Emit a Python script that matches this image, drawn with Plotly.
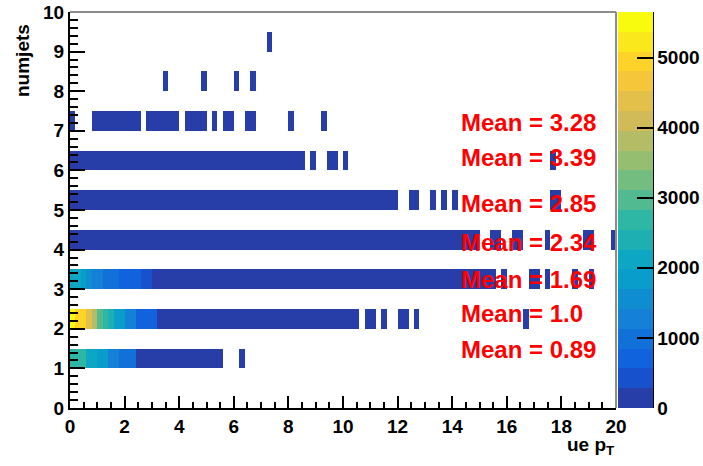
import numpy as np
import plotly.graph_objects as go

# ---------------- data ----------------
X_MIN, X_MAX, NX = 0.0, 20.0, 100      # ue pT binning
Y_MIN, Y_MAX, NY = 0.0, 10.0, 20       # numjets binning
numjets = [1, 2, 3, 4, 5, 6, 7, 8, 9]

# counts of the leading (coloured) bins starting at ue pT = 0, per row
row1_lead = [2700, 2650, 2600, 2150, 2100, 1800, 1750, 1400, 1350, 950, 900, 870]
row2_lead = [5650, 5050, 4950, 4350, 3800, 3050, 2800, 2350, 1950, 1750, 1350, 1200, 800, 750, 650, 600]
row3_lead = [2000, 1980, 1850, 1450, 1400, 1350, 1050, 1000, 950, 650, 620, 600, 580, 560, 540]
row4_lead = []
row5_lead = []
row6_lead = []
row7_lead = []
row8_lead = []
row9_lead = []

# further filled ranges: (ue pT low, ue pT high, counts per bin)
row1_runs = [(2.4, 5.6, 120), (6.2, 6.4, 2)]
row2_runs = [(3.2, 10.6, 150), (10.8, 11.2, 3), (11.4, 11.6, 2), (12.0, 12.4, 3), (12.6, 12.8, 1), (16.6, 16.8, 1)]
row3_runs = [(3.0, 15.6, 150), (15.8, 16.0, 3), (16.8, 17.2, 3), (17.4, 17.6, 2), (18.4, 18.6, 1), (19.0, 19.2, 1)]
row4_runs = [(0.0, 15.0, 200), (15.4, 15.8, 3), (16.2, 16.6, 3), (17.4, 17.6, 1), (18.8, 19.2, 2), (19.8, 20.0, 1)]
row5_runs = [(0.0, 12.0, 150), (12.4, 12.8, 3), (13.2, 13.4, 1), (13.6, 13.8, 1), (14.0, 14.2, 1), (17.6, 18.0, 2)]
row6_runs = [(0.0, 8.6, 100), (8.8, 9.0, 2), (9.4, 9.8, 2), (10.0, 10.2, 1), (17.6, 17.8, 1)]
row7_runs = [(0.0, 0.2, 1), (0.8, 2.6, 5), (2.8, 4.0, 4), (4.2, 5.0, 3), (5.2, 5.4, 1), (5.6, 6.0, 2), (6.4, 6.8, 2), (8.0, 8.2, 1), (9.2, 9.4, 1)]
row8_runs = [(3.4, 3.6, 1), (4.8, 5.0, 1), (6.0, 6.2, 1), (6.6, 6.8, 1)]
row9_runs = [(7.2, 7.4, 1)]

mean_labels = ["3.28", "3.39", "2.85", "2.34", "1.69", "1.0", "0.89"]
cbar_ticks = [0, 1000, 2000, 3000, 4000, 5000]

# ---------------- build histogram ----------------
leads = [row1_lead, row2_lead, row3_lead, row4_lead, row5_lead, row6_lead, row7_lead, row8_lead, row9_lead]
runs = [row1_runs, row2_runs, row3_runs, row4_runs, row5_runs, row6_runs, row7_runs, row8_runs, row9_runs]
dx = (X_MAX - X_MIN) / NX
dy = (Y_MAX - Y_MIN) / NY
z = np.full((NY, NX), np.nan)
for nj, lead, rr in zip(numjets, leads, runs):
    iy = int(round((nj - Y_MIN) / dy))
    for lo, hi, c in rr:
        for ix in range(int(round((lo - X_MIN) / dx)), int(round((hi - X_MIN) / dx))):
            z[iy, ix] = c
    for ix, c in enumerate(lead):
        z[iy, ix] = c
zmax = float(np.nanmax(z))

# ROOT kBird palette, 20 contour levels
stops = [0.0, 0.125, 0.25, 0.375, 0.5, 0.625, 0.75, 0.875, 1.0]
red = [0.2082, 0.0592, 0.0780, 0.0232, 0.1802, 0.5301, 0.8186, 0.9956, 0.9764]
green = [0.1664, 0.3599, 0.5041, 0.6419, 0.7178, 0.7492, 0.7328, 0.7862, 0.9832]
blue = [0.5293, 0.8684, 0.8385, 0.7914, 0.6425, 0.4662, 0.3499, 0.1968, 0.0539]
NCOL = 255
pal = []
for i in range(NCOL):
    t = i / (NCOL - 1)
    pal.append((np.interp(t, stops, red), np.interp(t, stops, green), np.interp(t, stops, blue)))
NLEV = 20
cs = []
for k in range(NLEV):
    idx = min(int((k + 0.99) * NCOL / NLEV), NCOL - 1)
    r, g, b = pal[idx]
    col = "rgb(%d,%d,%d)" % (round(r * 255), round(g * 255), round(b * 255))
    cs.append([k / NLEV, col])
    cs.append([(k + 1) / NLEV, col])

bold = dict(family="Liberation Sans, Arial, sans-serif", size=19, color="black", weight="bold")

fig = go.Figure(go.Heatmap(
    z=z, x0=X_MIN + dx / 2, dx=dx, y0=Y_MIN + dy / 2, dy=dy,
    zmin=0, zmax=zmax, colorscale=cs, hoverongaps=False,
    colorbar=dict(x=1.0037, xanchor="left", y=0.5, yanchor="middle", len=1, lenmode="fraction",
                  thickness=35, thicknessmode="pixels", xpad=0, ypad=0, outlinewidth=0,
                  ticks="inside", ticklen=16, tickwidth=2, tickcolor="black",
                  tickvals=cbar_ticks, ticktext=[str(v) for v in cbar_ticks], tickfont=bold),
))

fig.update_xaxes(range=[X_MIN, X_MAX], dtick=2, tick0=0, showgrid=False, zeroline=False,
                 showline=True, linecolor="black", linewidth=2,
                 ticks="inside", ticklen=12, tickwidth=2, tickcolor="black",
                 minor=dict(ticks="inside", ticklen=6, tickwidth=2, tickcolor="black", dtick=0.5),
                 tickfont=bold)
fig.update_yaxes(range=[Y_MIN, Y_MAX], dtick=1, tick0=0, showgrid=False, zeroline=False,
                 showline=True, linecolor="black", linewidth=2,
                 ticks="inside", ticklen=15, tickwidth=2, tickcolor="black",
                 minor=dict(ticks="inside", ticklen=8, tickwidth=2, tickcolor="black", dtick=0.2),
                 tickfont=bold)

L, R, T, B = 70, 87, 12, 58
W, H = 703, 466
pw, ph = W - L - R, H - T - B

def px(xp):
    return (xp - L) / pw

def py(yp):
    return (H - B - yp) / ph

ann = []
mean_y = [122, 157, 203, 242, 280, 313, 349]
for lab, yc in zip(mean_labels, mean_y):
    ann.append(dict(xref="paper", yref="paper", x=px(459), y=py(yc), xanchor="left", yanchor="middle",
                    text="Mean = " + lab, showarrow=False,
                    font=dict(family="Liberation Sans, Arial, sans-serif", size=24, color="#ff0000", weight="bold")))
ann.append(dict(xref="paper", yref="paper", x=px(22), y=py(60), xanchor="center", yanchor="middle",
                text="numjets", textangle=-90, showarrow=False, font=bold))
ann.append(dict(xref="paper", yref="paper", x=1.0, y=py(446), xanchor="right", yanchor="middle",
                text="ue p<sub>T</sub>", showarrow=False, font=bold))

shapes = [
    dict(type="line", xref="paper", yref="paper", x0=0, x1=1, y0=1, y1=1, line=dict(color="#8c8c8c", width=2)),
    dict(type="line", xref="paper", yref="paper", x0=1, x1=1, y0=0, y1=1, line=dict(color="#8c8c8c", width=2)),
    dict(type="line", xref="paper", yref="paper", x0=px(653), x1=px(653), y0=0, y1=1, line=dict(color="black", width=2)),
]

fig.update_layout(width=W, height=H, margin=dict(l=L, r=R, t=T, b=B, autoexpand=False),
                  paper_bgcolor="white", plot_bgcolor="white",
                  annotations=ann, shapes=shapes, showlegend=False)

fig.write_html("out.html")
